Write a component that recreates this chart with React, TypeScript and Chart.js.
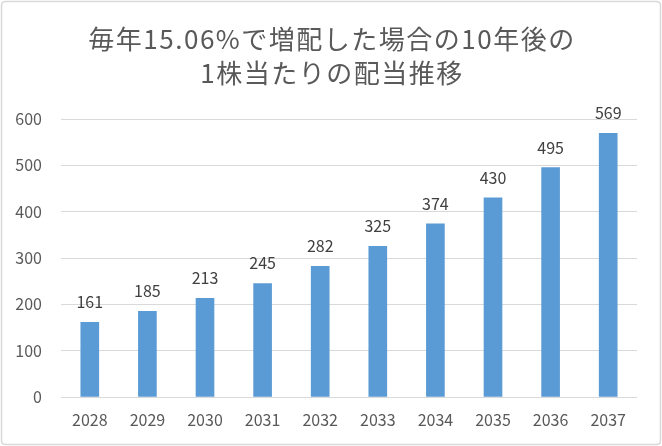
import React, { useEffect, useRef } from "react";
import { Chart, registerables } from "chart.js";

Chart.register(...registerables);

const years = ["2028", "2029", "2030", "2031", "2032", "2033", "2034", "2035", "2036", "2037"];
const dividends = [161, 185, 213, 245, 282, 325, 374, 430, 495, 569];
const titleLines = ["毎年15.06%で増配した場合の10年後の", "1株当たりの配当推移"];

const FONT = "'Noto Sans CJK JP', 'Noto Sans', sans-serif";

export default function App() {
  const ref = useRef<HTMLCanvasElement | null>(null);

  useEffect(() => {
    document.body.style.margin = "0";
    const canvas = ref.current;
    if (!canvas) return;

    const decor = {
      id: "decor",
      beforeDraw(chart: any) {
        const ctx = chart.ctx;
        ctx.save();
        ctx.fillStyle = "#ffffff";
        ctx.fillRect(0, 0, chart.width, chart.height);
        ctx.strokeStyle = "#d9d9d9";
        ctx.lineWidth = 1.5;
        const r = 4;
        const x0 = 1.5, y0 = 1.5, x1 = chart.width - 1.5, y1 = chart.height - 1.5;
        ctx.beginPath();
        ctx.moveTo(x0 + r, y0);
        ctx.lineTo(x1 - r, y0);
        ctx.quadraticCurveTo(x1, y0, x1, y0 + r);
        ctx.lineTo(x1, y1 - r);
        ctx.quadraticCurveTo(x1, y1, x1 - r, y1);
        ctx.lineTo(x0 + r, y1);
        ctx.quadraticCurveTo(x0, y1, x0, y1 - r);
        ctx.lineTo(x0, y0 + r);
        ctx.quadraticCurveTo(x0, y0, x0 + r, y0);
        ctx.stroke();
        ctx.fillStyle = "#595959";
        ctx.font = `26px ${FONT}`;
        try {
          (ctx as any).letterSpacing = "1.5px";
        } catch (e) {}
        ctx.textAlign = "center";
        ctx.textBaseline = "middle";
        ctx.fillText(titleLines[0], chart.width / 2 + 1, 39);
        ctx.fillText(titleLines[1], chart.width / 2 + 1, 73);
        ctx.restore();
      },
      afterDatasetsDraw(chart: any) {
        const ctx = chart.ctx;
        const meta = chart.getDatasetMeta(0);
        ctx.save();
        ctx.fillStyle = "#404040";
        ctx.font = `16px ${FONT}`;
        ctx.textAlign = "center";
        ctx.textBaseline = "alphabetic";
        meta.data.forEach((bar: any, i: number) => {
          ctx.fillText(String(dividends[i]), bar.x, bar.y - 14);
        });
        ctx.restore();
      },
    };

    const chart = new Chart(canvas, {
      type: "bar",
      data: {
        labels: years,
        datasets: [
          {
            data: dividends,
            backgroundColor: "#5b9bd5",
            barThickness: 18,
          },
        ],
      },
      options: {
        animation: false,
        responsive: false,
        maintainAspectRatio: false,
        layout: { padding: { top: 119, right: 25, left: 0, bottom: 0 } },
        plugins: {
          legend: { display: false },
          title: { display: false },
          tooltip: { enabled: false },
        },
        scales: {
          x: {
            afterFit(s: any) {
              s.height = 49;
            },
            grid: { display: false, drawTicks: false },
            border: { display: false },
            ticks: {
              color: "#595959",
              font: { family: FONT, size: 16 },
              padding: 13,
              maxRotation: 0,
            },
          },
          y: {
            min: 0,
            max: 600,
            afterFit(s: any) {
              s.width = 61;
            },
            grid: { color: "#d9d9d9", lineWidth: 1, drawTicks: false },
            border: { display: false },
            ticks: {
              stepSize: 100,
              color: "#595959",
              font: { family: FONT, size: 16 },
              padding: 19,
            },
          },
        },
      },
      plugins: [decor],
    });

    return () => chart.destroy();
  }, []);

  return (
    <div style={{ position: "absolute", left: 0, top: 0, width: 662, height: 446 }}>
      <canvas ref={ref} width={662} height={446} style={{ display: "block", width: 662, height: 446 }} />
    </div>
  );
}
